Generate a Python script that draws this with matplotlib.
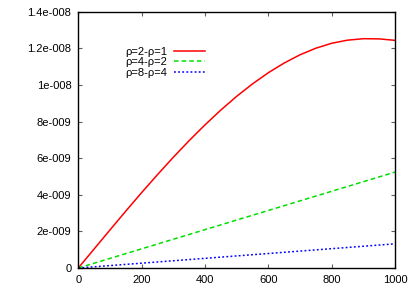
import matplotlib
matplotlib.use('Agg')
import matplotlib.pyplot as plt
import numpy as np

# values (y in units of 1e-9)
x_red = [0, 50, 100, 150, 200, 250, 300, 350, 400, 450, 500,
         550, 600, 650, 700, 750, 800, 850, 900, 950, 1000]
y_red = [0.0, 1.04, 2.08, 3.11, 4.12, 5.10, 6.05, 6.96, 7.82, 8.63, 9.38,
         10.06, 10.67, 11.20, 11.65, 12.01, 12.28, 12.45, 12.53, 12.52, 12.44]
x_lin = [0, 250, 500, 750, 1000]
y_green = [0.0, 1.31, 2.62, 3.93, 5.24]
y_blue = [0.0, 0.33, 0.66, 0.99, 1.32]

labels = ['ρ=2-ρ=1', 'ρ=4-ρ=2', 'ρ=8-ρ=4']
xticks = [0, 200, 400, 600, 800, 1000]
yticks = [0, 2e-9, 4e-9, 6e-9, 8e-9, 1e-8, 1.2e-8, 1.4e-8]
yticklabels = ['0', '2e-009', '4e-009', '6e-009', '8e-009',
               '1e-008', '1.2e-008', '1.4e-008']

plt.rcParams['font.family'] = ['Liberation Sans', 'DejaVu Sans']
plt.rcParams['font.size'] = 8

fig = plt.figure(figsize=(4.15, 2.91), dpi=100, facecolor='white')
ax = fig.add_axes([78.3 / 415, 23 / 291, (395 - 78.3) / 415, (268 - 11.8) / 291])

ax.plot(x_red, np.array(y_red) * 1e-9, color='#ff0000', lw=1.1,
        label=labels[0])
ax.plot(x_lin, np.array(y_green) * 1e-9, color='#00e000', lw=1.1,
        dashes=(3, 2), label=labels[1])
ax.plot(x_lin, np.array(y_blue) * 1e-9, color='#0000ff', lw=1.1,
        dashes=(1.2, 1.5), label=labels[2])

ax.set_xlim(0, 1000)
ax.set_ylim(0, 1.4e-8)
ax.set_xticks(xticks)
ax.set_xticklabels([str(t) for t in xticks])
ax.set_yticks(yticks)
ax.set_yticklabels(yticklabels)
ax.tick_params(direction='in', length=3, width=0.8, color='#606060',
               top=True, right=True, pad=5, labelsize=8)

for s in ax.spines.values():
    s.set_color('black')
    s.set_linewidth(1.0)

# legend: labels on the left, samples on the right (gnuplot style)
leg = ax.legend(loc='upper left', bbox_to_anchor=(0.13, 0.885), frameon=False,
                markerfirst=False, handlelength=2.8, handletextpad=0.6,
                labelspacing=0.05, fontsize=8, borderpad=0)

plt.savefig('out.png', dpi=100, facecolor='white')
